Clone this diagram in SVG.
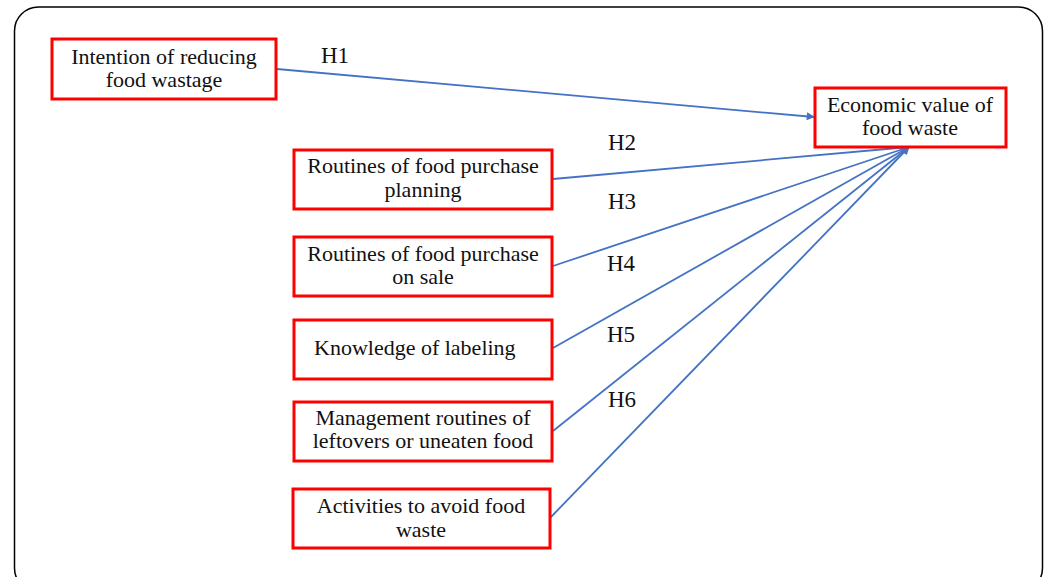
<svg xmlns="http://www.w3.org/2000/svg" width="1046" height="577" viewBox="0 0 1046 577">
<style>
.box{fill:#fff;stroke:#ff0000;stroke-width:3}
.t{font-family:"Liberation Serif",serif;font-size:22px;fill:#111;text-anchor:middle}
.h{font-family:"Liberation Serif",serif;font-size:23px;fill:#111}
.c{stroke:#4472c4;stroke-width:1.8;fill:none;marker-end:url(#ah)}
</style>
<defs>
<marker id="ah" viewBox="0 0 10 10" refX="9" refY="5" markerWidth="9" markerHeight="8" markerUnits="userSpaceOnUse" orient="auto" overflow="visible">
<path d="M0,0 L10,5 L0,10 Z" fill="#4472c4"/>
</marker>
</defs>
<rect x="14.5" y="7" width="1028" height="585" rx="24" fill="#fff" stroke="#000" stroke-width="1.5"/>
<g id="connectors">
<line class="c" x1="277" y1="69" x2="814" y2="117"/>
<line class="c" x1="553" y1="179" x2="909" y2="147"/>
<line class="c" x1="553" y1="266" x2="909" y2="147"/>
<line class="c" x1="553" y1="348" x2="909" y2="147"/>
<line class="c" x1="553" y1="431" x2="909" y2="147"/>
<line class="c" x1="550" y1="518" x2="909" y2="147"/>
</g>
<g id="labels">
<text class="h" x="321" y="63">H1</text>
<text class="h" x="608" y="150">H2</text>
<text class="h" x="608" y="209">H3</text>
<text class="h" x="607" y="271">H4</text>
<text class="h" x="607" y="342">H5</text>
<text class="h" x="608" y="407">H6</text>
</g>
<g id="n1">
<rect class="box" x="52" y="39" width="224" height="60"/>
<text class="t" x="164" y="64">Intention of reducing</text>
<text class="t" x="164" y="87">food wastage</text>
</g>
<g id="target">
<rect class="box" x="815" y="88" width="191" height="59"/>
<text class="t" x="910" y="112">Economic value of</text>
<text class="t" x="910" y="135">food waste</text>
</g>
<g id="n2">
<rect class="box" x="294" y="150" width="258" height="59"/>
<text class="t" x="423" y="173">Routines of food purchase</text>
<text class="t" x="423" y="197">planning</text>
</g>
<g id="n3">
<rect class="box" x="294" y="237" width="258" height="59"/>
<text class="t" x="423" y="261">Routines of food purchase</text>
<text class="t" x="423" y="284">on sale</text>
</g>
<g id="n4">
<rect class="box" x="294" y="320" width="258" height="59"/>
<text class="t" x="314" y="355" style="text-anchor:start">Knowledge of labeling</text>
</g>
<g id="n5">
<rect class="box" x="294" y="402" width="258" height="59"/>
<text class="t" x="423" y="425">Management routines of</text>
<text class="t" x="423" y="448">leftovers or uneaten food</text>
</g>
<g id="n6">
<rect class="box" x="293" y="489" width="257" height="59"/>
<text class="t" x="421" y="513">Activities to avoid food</text>
<text class="t" x="421" y="537">waste</text>
</g>
</svg>
